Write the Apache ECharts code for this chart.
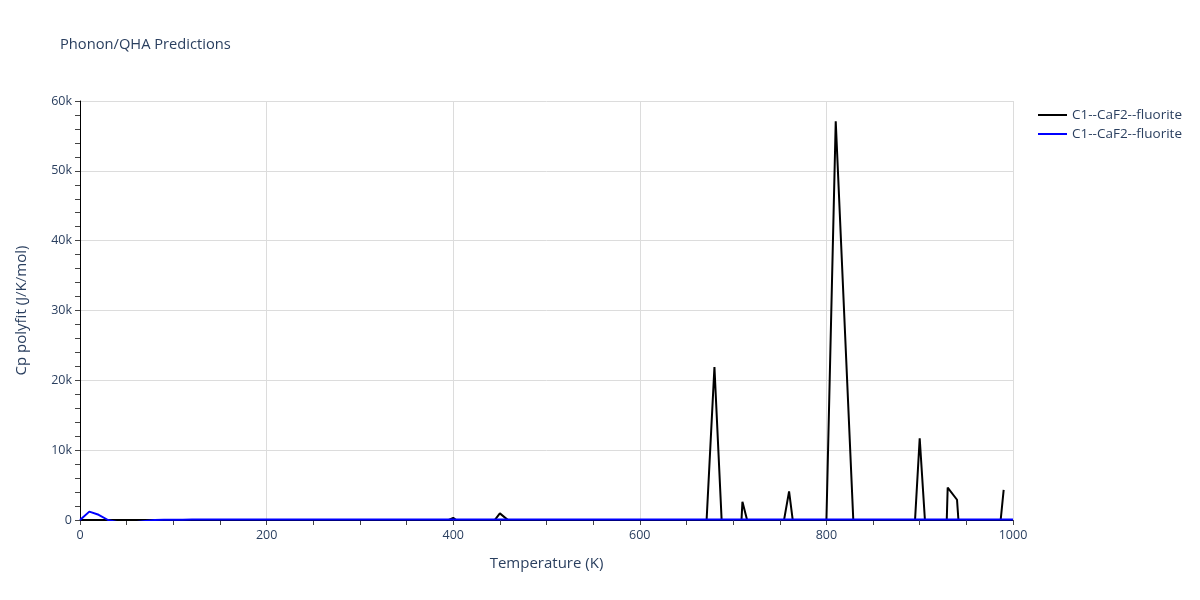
<!DOCTYPE html>
<html>
<head>
<meta charset="utf-8">
<script src="https://cdn.jsdelivr.net/npm/echarts@6/dist/echarts.min.js"></script>
<style>html,body{margin:0;padding:0;background:#fff;}#c{width:1200px;height:600px;}</style>
</head>
<body>
<div id="c"></div>
<script>
// Temperature grid (K) and Cp polyfit values (J/K/mol)
const tempsA = [0,10,20,30,40,50,60,70,80,90,100,110,120,130,140,150,160,170,180,190,
  200,210,220,230,240,250,260,270,280,290,300,310,320,330,340,350,360,370,380,390,
  400,410,420,430,440,450,460,470,480,490,500,510,520,530,540,550,560,570,580,590,
  600,610,620,630,640,650,660,670,680,690,700,710,720,730,740,750,760,770,780,790,
  800,810,820,830,840,850,860,870,880,890,900,910,920,930,940,950,960,970,980,990];
const cpA = [0,0,0,0,0,0,0,0,0,0,0,0,0,0,0,0,0,0,0,0,
  0,0,0,0,0,0,0,0,0,0,0,0,0,0,0,0,0,0,0,-300,
  300,-700,0,0,-800,950,-150,0,0,0,0,0,0,0,0,0,0,0,0,0,
  0,0,0,0,0,0,0,-4200,21900,-6500,-23400,2600,-2600,0,0,-3500,4100,-6400,0,0,
  -200,57100,26700,-3600,0,0,0,0,0,-11700,11700,-9200,-41800,4650,2900,-16400,0,0,-9100,4300];

const tempsB = [0,10,20,30,40,50,60,70,80,90,100,110,120,130,140,150,160,170,180,190,
  200,250,300,350,400,450,500,550,600,650,700,750,800,850,900,950,1000];
const cpB = [0,1200,750,0,-300,-300,-300,-150,0,20,40,50,55,60,62,64,66,67,68,69,
  70,72,74,75,76,77,78,78,79,79,80,80,80,81,81,81,82];

const seriesNames = ['C1--CaF2--fluorite', 'C1--CaF2--fluorite '];

const pair = (xs, ys) => xs.map((x, i) => [x, ys[i]]);
const txt = '#2a3f5f';
const chart = echarts.init(document.getElementById('c'), null, {renderer: 'canvas'});
chart.setOption({
  animation: false,
  backgroundColor: '#fff',
  title: {
    text: 'Phonon/QHA Predictions',
    left: 60, top: 37, padding: 0,
    textStyle: {color: txt, fontSize: 14.7, fontWeight: 'normal', fontFamily: 'Open Sans'}
  },
  legend: {
    orient: 'vertical',
    left: 1038, top: 108, padding: 0,
    itemWidth: 29, itemHeight: 2, itemGap: 5,
    icon: 'rect',
    textStyle: {color: txt, fontSize: 13.5, fontFamily: 'Open Sans'},
    data: seriesNames
  },
  grid: {left: 80, right: 187, top: 101, bottom: 80, containLabel: false},
  xAxis: {
    type: 'value', min: 0, max: 1000, interval: 200,
    name: 'Temperature (K)', nameLocation: 'middle', nameGap: 36,
    nameTextStyle: {color: txt, fontSize: 15, fontFamily: 'Open Sans'},
    axisLine: {show: true, lineStyle: {color: '#000', width: 1}},
    axisTick: {show: true, length: 5, lineStyle: {color: '#444'}},
    minorTick: {show: true, splitNumber: 4, length: 5, lineStyle: {color: '#444'}},
    axisLabel: {color: txt, fontSize: 12.5, fontFamily: 'Open Sans', margin: 9,
      formatter: v => String(v)},
    splitLine: {show: true, lineStyle: {color: '#dcdcdc', width: 1}}
  },
  yAxis: {
    type: 'value', min: 0, max: 60000, interval: 10000,
    name: 'Cp polyfit (J/K/mol)', nameLocation: 'middle', nameGap: 51,
    nameTextStyle: {color: txt, fontSize: 15, fontFamily: 'Open Sans'},
    axisLine: {show: true, lineStyle: {color: '#000', width: 1}},
    axisTick: {show: true, length: 5, lineStyle: {color: '#444'}},
    minorTick: {show: true, splitNumber: 5, length: 5, lineStyle: {color: '#444'}},
    axisLabel: {color: txt, fontSize: 12.5, fontFamily: 'Open Sans', margin: 8,
      formatter: v => v === 0 ? '0' : (v / 1000) + 'k'},
    splitLine: {show: true, lineStyle: {color: '#dcdcdc', width: 1}}
  },
  series: [
    {name: seriesNames[0], type: 'line', data: pair(tempsA, cpA), showSymbol: false,
      lineStyle: {color: '#000', width: 2}, itemStyle: {color: '#000'}, clip: true},
    {name: seriesNames[1], type: 'line', data: pair(tempsB, cpB), showSymbol: false,
      lineStyle: {color: '#0000ff', width: 2}, itemStyle: {color: '#0000ff'}, clip: true}
  ]
});
</script>
</body>
</html>
